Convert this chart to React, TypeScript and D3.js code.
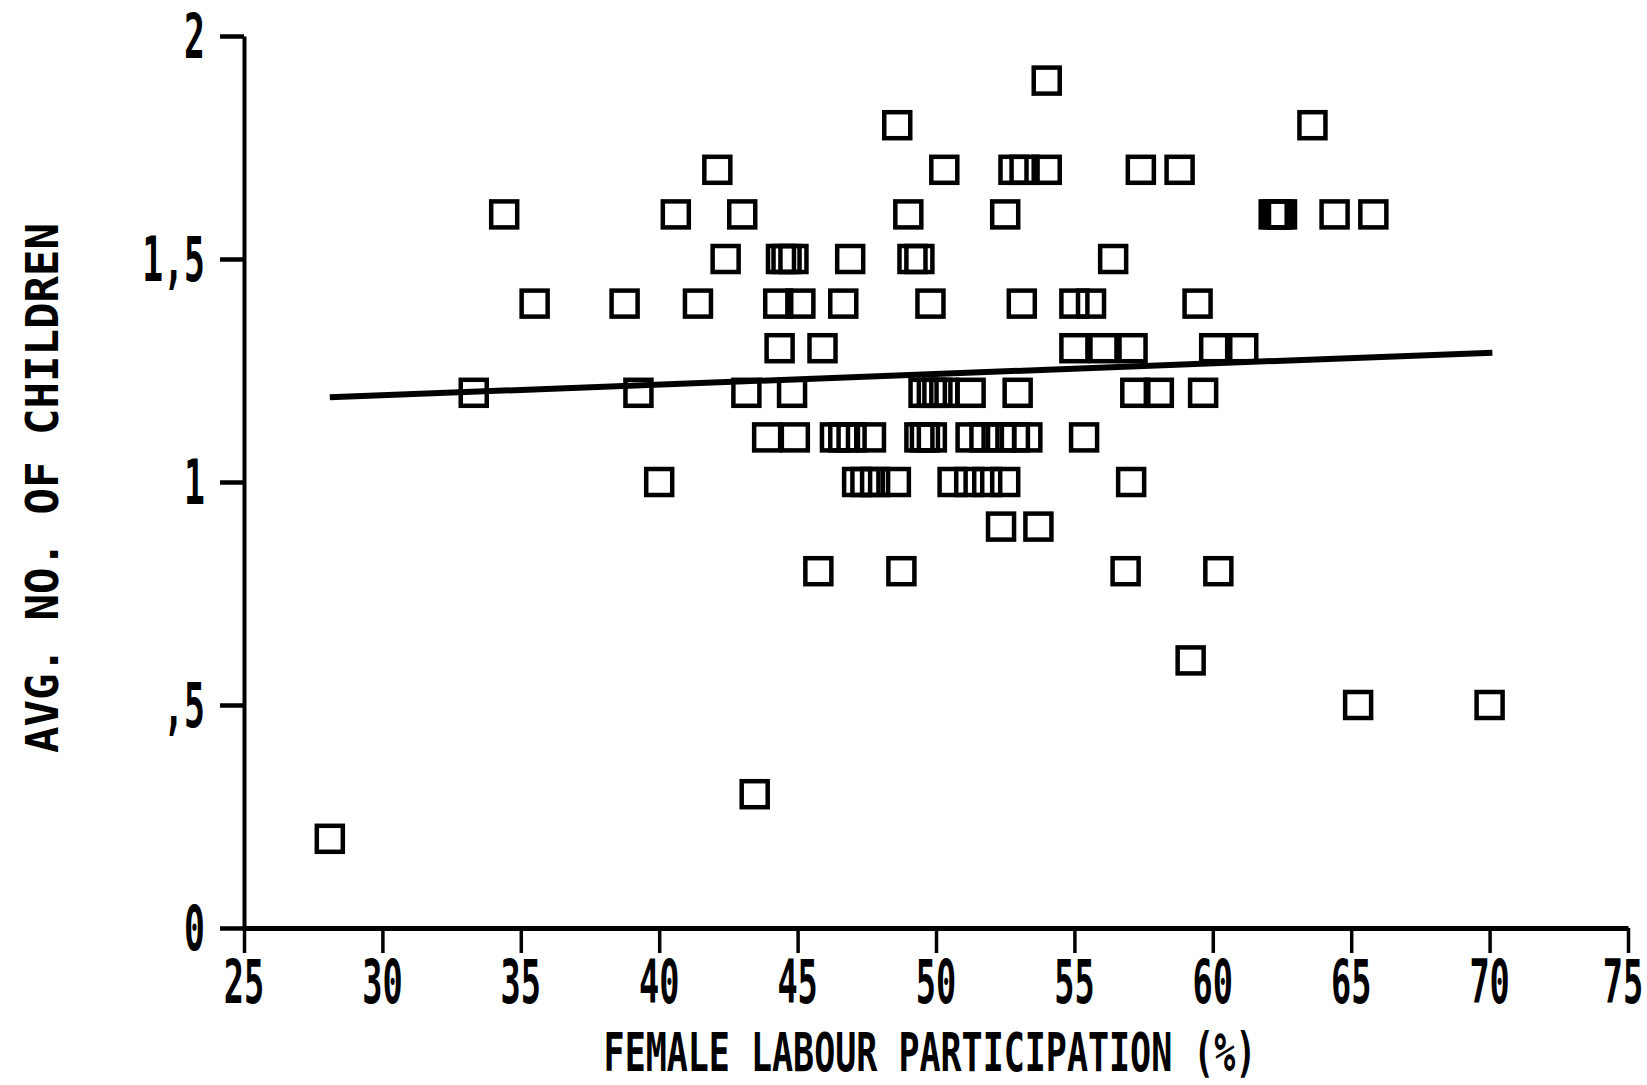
import { useEffect, useRef } from 'react';
import * as d3 from 'd3';

// Female labour participation (%) for each country/region
const femaleLabour = [
  54.0,
  48.6, 63.6,
  42.1, 50.3, 52.8, 53.2, 54.0, 57.4, 58.8,
  34.4, 40.6, 43.0, 49.0, 52.5, 62.2, 62.35, 62.5, 64.4, 65.8,
  42.4, 44.4, 44.6, 44.85, 46.9, 49.15, 49.4, 56.4,
  35.5, 38.75, 41.4, 44.3, 45.1, 46.65, 49.8, 53.1, 55.0, 55.6, 59.45,
  44.35, 45.9, 55.0, 56.05, 57.1, 60.05, 61.1,
  33.3, 39.25, 43.15, 44.8, 49.55, 49.85, 50.05, 50.3, 51.25, 52.95, 57.2, 58.05, 59.65,
  43.9, 44.9, 46.35, 46.65, 46.95, 47.65, 49.4, 49.6, 49.85, 51.25, 51.75, 52.35, 52.85, 53.3, 55.35,
  40.0, 47.15, 47.45, 47.8, 48.55, 50.6, 51.2, 51.85, 52.5, 57.05,
  52.35, 53.7,
  45.75, 48.75, 56.85, 60.2,
  59.2,
  65.25, 70.0,
  43.45,
  28.1,
];

// Average number of children, same order as above
const avgChildren = [
  1.9,
  1.8, 1.8,
  1.7, 1.7, 1.7, 1.7, 1.7, 1.7, 1.7,
  1.6, 1.6, 1.6, 1.6, 1.6, 1.6, 1.6, 1.6, 1.6, 1.6,
  1.5, 1.5, 1.5, 1.5, 1.5, 1.5, 1.5, 1.5,
  1.4, 1.4, 1.4, 1.4, 1.4, 1.4, 1.4, 1.4, 1.4, 1.4, 1.4,
  1.3, 1.3, 1.3, 1.3, 1.3, 1.3, 1.3,
  1.2, 1.2, 1.2, 1.2, 1.2, 1.2, 1.2, 1.2, 1.2, 1.2, 1.2, 1.2, 1.2,
  1.1, 1.1, 1.1, 1.1, 1.1, 1.1, 1.1, 1.1, 1.1, 1.1, 1.1, 1.1, 1.1, 1.1, 1.1,
  1.0, 1.0, 1.0, 1.0, 1.0, 1.0, 1.0, 1.0, 1.0, 1.0,
  0.9, 0.9,
  0.8, 0.8, 0.8, 0.8,
  0.6,
  0.5, 0.5,
  0.3,
  0.2,
];

// fitted line end points
const trendX = [28.1, 70.1];
const trendY = [1.19, 1.29];

const xTicks = [25, 30, 35, 40, 45, 50, 55, 60, 65, 70, 75];
const yTicks = [0, 0.5, 1, 1.5, 2];
const yTickLabels = ['0', ',5', '1', '1,5', '2'];

const xTitle = 'FEMALE LABOUR PARTICIPATION (%)';
const yTitle = 'AVG. NO. OF CHILDREN';

const W = 1647;
const H = 1085;
const FONT = '"DejaVu Sans Mono", "Liberation Mono", monospace';

export default function App() {
  const svgRef = useRef<SVGSVGElement>(null);

  useEffect(() => {
    if (!svgRef.current) return;
    const svg = d3.select(svgRef.current);
    svg.selectAll('*').remove();

    const x = d3.scaleLinear().domain([25, 75]).range([244, 1628]);
    const y = d3.scaleLinear().domain([0, 2]).range([928, 36]);

    // axes (lines only, labels drawn separately)
    const xAxis = svg.append('g')
      .attr('transform', `translate(0,${y(0)})`)
      .call(d3.axisBottom(x).tickValues(xTicks).tickSize(25).tickSizeOuter(0).tickFormat(() => ''));
    xAxis.select('.domain').attr('stroke', '#000').attr('stroke-width', 5);
    xAxis.selectAll('.tick line').attr('stroke', '#000').attr('stroke-width', 3.5);

    const yAxis = svg.append('g')
      .attr('transform', `translate(${x(25)},0)`)
      .call(d3.axisLeft(y).tickValues(yTicks).tickSize(24).tickSizeOuter(0).tickFormat(() => ''));
    yAxis.select('.domain').attr('stroke', '#000').attr('stroke-width', 4);
    yAxis.selectAll('.tick line').attr('stroke', '#000').attr('stroke-width', 4.5);

    // narrow, tall lettering: mono font squeezed horizontally
    const squeeze = 0.56;

    // tick labels (the last one is kept inside the page)
    svg.append('g')
      .selectAll('text')
      .data(xTicks)
      .join('text')
      .attr('transform', d => `translate(${Math.min(x(d), W - 24)},1003) scale(${squeeze},1)`)
      .attr('text-anchor', 'middle')
      .attr('font-family', FONT)
      .attr('font-weight', 'bold')
      .attr('font-size', 60)
      .attr('fill', '#000')
      .text(d => String(d));

    svg.append('g')
      .selectAll('text')
      .data(yTicks)
      .join('text')
      .attr('transform', d => `translate(205,${y(d) + 22}) scale(${squeeze},1)`)
      .attr('text-anchor', 'end')
      .attr('font-family', FONT)
      .attr('font-weight', 'bold')
      .attr('font-size', 62)
      .attr('fill', '#000')
      .text((_, i) => yTickLabels[i]);

    // axis titles
    svg.append('text')
      .attr('transform', `translate(930,1071) scale(0.648,1)`)
      .attr('text-anchor', 'middle')
      .attr('font-family', FONT)
      .attr('font-weight', 'bold')
      .attr('font-size', 54)
      .attr('fill', '#000')
      .text(xTitle);

    svg.append('text')
      .attr('transform', `translate(58,488) rotate(-90)`)
      .attr('text-anchor', 'middle')
      .attr('font-family', FONT)
      .attr('font-weight', 'bold')
      .attr('font-size', 44)
      .attr('fill', '#000')
      .text(yTitle);

    // fitted line
    const line = d3.line<number>()
      .x((_, i) => x(trendX[i]))
      .y(d => y(d));
    svg.append('path')
      .datum(trendY)
      .attr('d', line)
      .attr('fill', 'none')
      .attr('stroke', '#000')
      .attr('stroke-width', 6);

    // square markers
    const size = 26;
    svg.append('g')
      .selectAll('rect')
      .data(femaleLabour)
      .join('rect')
      .attr('x', d => x(d) - size / 2)
      .attr('y', (_, i) => y(avgChildren[i]) - size / 2)
      .attr('width', size)
      .attr('height', size)
      .attr('fill', 'none')
      .attr('stroke', '#000')
      .attr('stroke-width', 4.5);
  }, []);

  return (
    <div style={{ position: 'absolute', left: 0, top: 0, background: '#fff' }}>
      <svg ref={svgRef} width={W} height={H} style={{ display: 'block' }} />
    </div>
  );
}
